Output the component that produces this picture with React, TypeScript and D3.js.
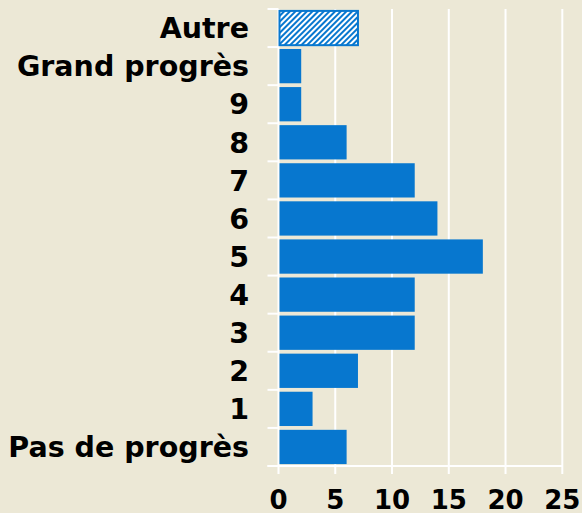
import { useEffect, useRef } from "react";
import * as d3 from "d3";

// categories listed top to bottom
const categories = ["Autre", "Grand progrès", "9", "8", "7", "6", "5", "4", "3", "2", "1", "Pas de progrès"];
const counts = [7, 2, 2, 6, 12, 14, 18, 12, 12, 7, 3, 6];
const xTicks = [0, 5, 10, 15, 20, 25];
const hatched = ["Autre"];

export default function App() {
    const svgRef = useRef<SVGSVGElement>(null);

    useEffect(() => {
        const width = 582, height = 513;
        const margin = { top: 9, right: 20, bottom: 47, left: 278.5 };
        const blue = "#0777cf";

        const svg = d3.select(svgRef.current)
            .attr("width", width)
            .attr("height", height);
        svg.selectAll("*").remove();

        svg.append("rect").attr("width", width).attr("height", height).attr("fill", "#ece8d6");

        // diagonal hatch for the "Autre" bar
        const pat = svg.append("defs").append("pattern")
            .attr("id", "hatch")
            .attr("patternUnits", "userSpaceOnUse")
            .attr("width", 4)
            .attr("height", 4)
            .attr("patternTransform", "rotate(45)");
        pat.append("rect").attr("width", 4).attr("height", 4).attr("fill", "white");
        pat.append("rect").attr("width", 2).attr("height", 4).attr("fill", blue);

        const x = d3.scaleLinear().domain([0, 25]).range([margin.left, 562.3]);
        const y = d3.scaleBand().domain(categories).range([margin.top, height - margin.bottom]).paddingInner(0.1).paddingOuter(0.05);
        const bottom = height - margin.bottom;

        const grid = svg.append("g").attr("stroke", "white").attr("stroke-width", 2);
        // vertical grid lines with ticks below
        xTicks.forEach((t) => {
            grid.append("line").attr("x1", x(t)).attr("x2", x(t)).attr("y1", margin.top).attr("y2", bottom + 8);
        });
        // band boundary ticks on the left
        const y0 = y.range()[0];
        d3.range(categories.length + 1).forEach((i) => {
            const yy = y0 + i * ((bottom - y0) / categories.length);
            grid.append("line").attr("x1", x(0) - 11).attr("x2", x(0)).attr("y1", yy).attr("y2", yy);
        });
        grid.append("line").attr("x1", x(0) - 11).attr("x2", x(25)).attr("y1", bottom).attr("y2", bottom);

        svg.append("g").selectAll("rect").data(categories).join("rect")
            .attr("x", x(0) + 1)
            .attr("y", (d) => y(d)!)
            .attr("width", (d, i) => x(counts[i]) - x(0) - 1)
            .attr("height", y.bandwidth())
            .attr("fill", (d) => hatched.includes(d) ? "url(#hatch)" : blue)
            .attr("stroke", (d) => hatched.includes(d) ? blue : "none")
            .attr("stroke-width", 2);

        svg.append("g").selectAll("text").data(categories).join("text")
            .attr("x", 249)
            .attr("y", (d) => y(d)! + y.bandwidth() / 2)
            .attr("dy", "0.36em")
            .attr("text-anchor", "end")
            .attr("font-family", "DejaVu Sans")
            .attr("font-weight", "bold")
            .attr("font-size", 28.5)
            .attr("fill", "#000")
            .text((d) => d);

        svg.append("g").selectAll("text").data(xTicks).join("text")
            .attr("x", (d) => x(d))
            .attr("y", 508.5)
            .attr("text-anchor", "middle")
            .attr("font-family", "DejaVu Sans")
            .attr("font-weight", "bold")
            .attr("font-size", 26)
            .attr("fill", "#000")
            .text((d) => d);
    }, []);

    return (
        <div style={{ position: "fixed", left: 0, top: 0 }}>
            <svg ref={svgRef} style={{ display: "block" }}></svg>
        </div>
    );
}
